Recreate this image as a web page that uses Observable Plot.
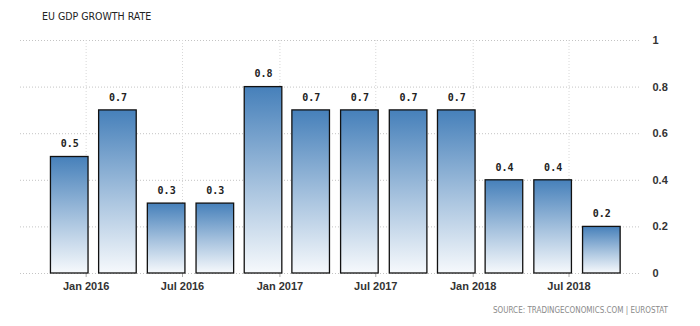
<!DOCTYPE html>
<html>
<head>
<meta charset="utf-8">
<script src="https://cdn.jsdelivr.net/npm/d3@7"></script>
<script src="https://cdn.jsdelivr.net/npm/@observablehq/plot@0.6"></script>
<style>
  html, body { margin: 0; padding: 0; background: #fff; }
  #chart { position: relative; width: 700px; height: 326px; }
  #title { position: absolute; left: 42px; top: 10px; font: 10.5px "DejaVu Sans Condensed", "DejaVu Sans", sans-serif; color: #222; }
  #source { position: absolute; left: 493px; top: 306px; font: 8px "DejaVu Sans Condensed", "DejaVu Sans", sans-serif; color: #8a8a8a; }
  #chart svg { position: absolute; left: 0; top: 0; }
</style>
</head>
<body>
<div id="chart">
  <div id="title">EU GDP GROWTH RATE</div>
  <div id="source">SOURCE: TRADINGECONOMICS.COM | EUROSTAT</div>
</div>
<script>
// Quarterly GDP growth (%, quarter on quarter), plotted at each quarter's last month
const quarters = ["2015-12-01", "2016-03-01", "2016-06-01", "2016-09-01", "2016-12-01", "2017-03-01",
                  "2017-06-01", "2017-09-01", "2017-12-01", "2018-03-01", "2018-06-01", "2018-09-01"];
const growth = [0.5, 0.7, 0.3, 0.3, 0.8, 0.7, 0.7, 0.7, 0.7, 0.4, 0.4, 0.2];

const xTicks = ["2016-01-01", "2016-07-01", "2017-01-01", "2017-07-01", "2018-01-01", "2018-07-01"];
const xTickLabels = ["Jan 2016", "Jul 2016", "Jan 2017", "Jul 2017", "Jan 2018", "Jul 2018"];
const yTicks = [0, 0.2, 0.4, 0.6, 0.8, 1];
const yTickLabels = ["0", "0.2", "0.4", "0.6", "0.8", "1"];

const data = quarters.map((d, i) => ({date: new Date(d), value: growth[i]}));
const tickDates = xTicks.map(d => new Date(d));
const halfBar = 35.5 * 864e5; // half a bar, in ms

const plot = Plot.plot({
  width: 700,
  height: 326,
  marginTop: 40,
  marginBottom: 53,
  marginLeft: 20,
  marginRight: 60,
  style: {background: "transparent", overflow: "visible"},
  x: {type: "utc", domain: [new Date("2015-08-30"), new Date("2018-11-13")], label: null},
  y: {domain: [0, 1], label: null},
  marks: [
    // dotted grid
    Plot.ruleY(yTicks, {stroke: "#c4c4c4", strokeDasharray: "1,2"}),
    Plot.ruleX(tickDates, {stroke: "#d8d8d8", strokeDasharray: "1,2"}),
    Plot.axisX({
      ticks: tickDates, tickSize: 4, tickPadding: 5, label: null,
      tickFormat: d => xTickLabels[tickDates.findIndex(t => +t === +d)],
      stroke: "#aaa",
      fill: "#333", fontSize: 11, fontWeight: "bold",
      fontFamily: "'Liberation Sans', sans-serif"
    }),
    Plot.axisY({
      anchor: "right", ticks: yTicks, tickSize: 0, tickPadding: 12, label: null,
      tickFormat: d => yTickLabels[yTicks.indexOf(d)],
      fill: "#333", fontSize: 11, fontWeight: "bold", textAnchor: "start",
      fontFamily: "'Liberation Sans', sans-serif"
    }),
    Plot.rectY(data, {
      x1: d => new Date(+d.date - halfBar),
      x2: d => new Date(+d.date + halfBar),
      y: "value",
      fill: "url(#barGradient)",
      stroke: "#111",
      strokeWidth: 1.3
    }),
    Plot.text(data, {
      x: "date", y: "value", text: d => d.value.toFixed(1),
      dy: -13, fill: "#222", fontSize: 10, fontWeight: "bold",
      fontFamily: "'DejaVu Sans Mono', monospace"
    })
  ]
});

// vertical blue-to-white fill shared by every bar
const ns = "http://www.w3.org/2000/svg";
const defs = document.createElementNS(ns, "defs");
const grad = document.createElementNS(ns, "linearGradient");
grad.setAttribute("id", "barGradient");
grad.setAttribute("x1", "0"); grad.setAttribute("y1", "0");
grad.setAttribute("x2", "0"); grad.setAttribute("y2", "1");
[["0%", "#4680ba"], ["55%", "#a9c4df"], ["100%", "#f6f9fc"]].forEach(([o, c]) => {
  const s = document.createElementNS(ns, "stop");
  s.setAttribute("offset", o); s.setAttribute("stop-color", c);
  grad.appendChild(s);
});
defs.appendChild(grad);
plot.insertBefore(defs, plot.firstChild);

document.getElementById("chart").appendChild(plot);
</script>
</body>
</html>
